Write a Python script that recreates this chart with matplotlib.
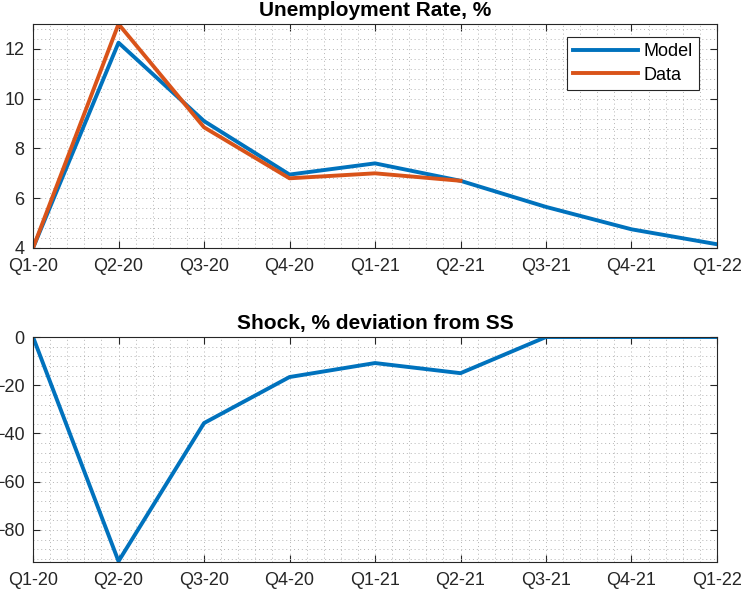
import matplotlib.pyplot as plt
from matplotlib.ticker import AutoMinorLocator

plt.rcParams['font.family'] = ['Liberation Sans', 'DejaVu Sans']

# quarters shown on the x axis
quarters = ['Q1-20', 'Q2-20', 'Q3-20', 'Q4-20', 'Q1-21', 'Q2-21', 'Q3-21', 'Q4-21', 'Q1-22']

# unemployment rate, %
model_u = [4.0, 12.25, 9.1, 6.95, 7.4, 6.7, 5.65, 4.75, 4.15]
data_u = [4.0, 13.0, 8.85, 6.8, 7.0, 6.7]

# shock, % deviation from steady state
shock = [0.0, -93.0, -35.7, -16.6, -10.8, -15.0, 0.0, 0.0, 0.0]

blue = '#0072BD'
orange = '#D95319'

fig = plt.figure(figsize=(7.42, 5.90), dpi=100)
ax1 = fig.add_axes([0.0445, 0.5797, 0.9218, 0.3796])
ax2 = fig.add_axes([0.0445, 0.0475, 0.9218, 0.3813])

x = list(range(len(quarters)))


def style(ax):
    ax.set_xticks(x)
    ax.set_xticklabels(quarters)
    ax.set_xlim(0, len(quarters) - 1)
    ax.xaxis.set_minor_locator(AutoMinorLocator(5))
    ax.yaxis.set_minor_locator(AutoMinorLocator(5))
    ax.tick_params(which='both', direction='in', top=True, right=True,
                   labelsize=13, colors='#262626')
    ax.tick_params(axis='x', pad=7.5)
    ax.tick_params(axis='y', pad=6)
    ax.tick_params(which='major', length=5, width=0.8)
    ax.tick_params(which='minor', length=0)
    # matlab style: every grid line is dotted and light
    ax.grid(which='both', color='#b5b5b5', linestyle=(0, (1, 3)), linewidth=0.7)
    ax.set_axisbelow(True)
    for s in ax.spines.values():
        s.set_color('#262626')
        s.set_linewidth(0.8)


ax1.plot(x, model_u, color=blue, linewidth=2.8, label='Model')
ax1.plot(x[:len(data_u)], data_u, color=orange, linewidth=2.8, label='Data')
ax1.set_ylim(4, 13)
ax1.set_yticks([4, 6, 8, 10, 12])
style(ax1)
ax1.set_title('Unemployment Rate, %', fontsize=15, fontweight='bold', pad=6)
leg = ax1.legend(loc='upper right', bbox_to_anchor=(0.9737, 0.942), fontsize=13,
                 fancybox=False, framealpha=1, edgecolor='#262626',
                 handlelength=3.6, borderaxespad=0, borderpad=0.35,
                 labelspacing=0.35, handletextpad=0.3)
leg.get_frame().set_linewidth(0.8)

ax2.plot(x, shock, color=blue, linewidth=2.8)
ax2.set_ylim(-93.3, 0)
ax2.set_yticks([-80, -60, -40, -20, 0])
style(ax2)
ax2.set_title('Shock, % deviation from SS', fontsize=15, fontweight='bold', pad=6)

fig.savefig('out.png', dpi=100)
